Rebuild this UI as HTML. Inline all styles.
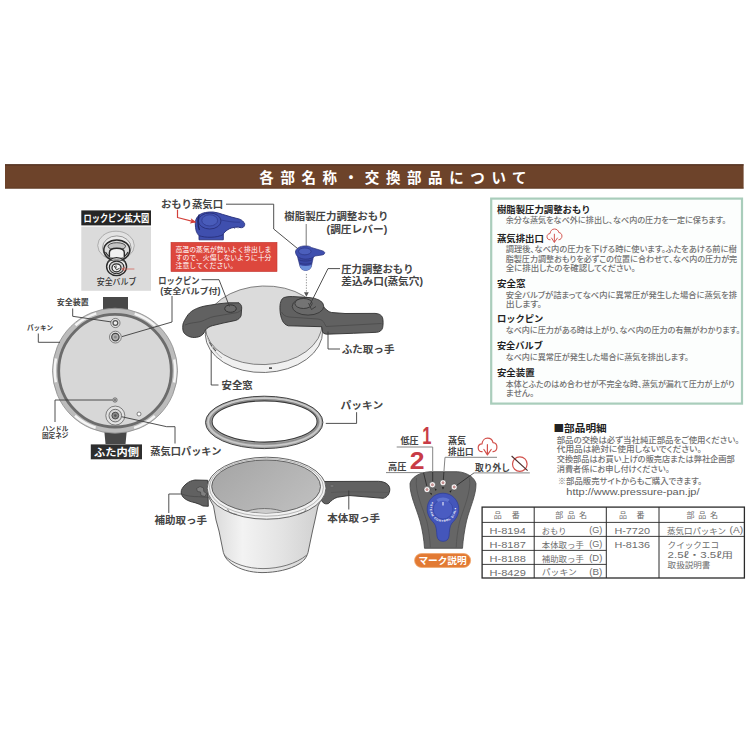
<!DOCTYPE html>
<html lang="ja">
<head>
<meta charset="utf-8">
<title>各部名称・交換部品について</title>
<style>
html,body{margin:0;padding:0;background:#fff;}
body{width:750px;height:750px;overflow:hidden;position:relative;font-family:"Liberation Sans","Noto Sans CJK JP",sans-serif;}
svg{position:absolute;left:0;top:0;display:block;}
text{font-family:"Liberation Sans","Noto Sans CJK JP",sans-serif;}
.lbl{font-weight:700;font-size:10px;fill:#444;}
.sm{font-size:7.6px;fill:#3c3c3c;font-weight:700;}
.h{font-weight:700;font-size:9.1px;fill:#222;}
.p{font-size:7.8px;fill:#707070;font-weight:500;font-feature-settings:"palt";}
.q{font-size:7.7px;fill:#707070;font-weight:500;font-feature-settings:"palt";}
.t{font-size:8.4px;fill:#6c6c6c;}
.cjk{font-family:"Noto Sans CJK JP",sans-serif;}
.ln{fill:none;stroke:#3c3c3c;stroke-width:0.9;}
.ln2{fill:none;stroke:#858585;stroke-width:1;}
.ln3{fill:none;stroke:#1e1e1e;stroke-width:0.7;}
.red{fill:none;stroke:#d3403a;stroke-width:1.2;stroke-linecap:round;stroke-linejoin:round;}
</style>
</head>
<body>
<svg width="750" height="750" viewBox="0 0 750 750" xmlns="http://www.w3.org/2000/svg">
<defs>
<linearGradient id="potg" x1="0" x2="1" y1="0" y2="0">
<stop offset="0" stop-color="#d6d6d6"/><stop offset="0.3" stop-color="#f3f3f3"/><stop offset="0.65" stop-color="#e3e3e3"/><stop offset="1" stop-color="#cfcfcf"/>
</linearGradient>
<linearGradient id="lidg" x1="0" x2="1" y1="0" y2="1">
<stop offset="0" stop-color="#d8d8d8"/><stop offset="1" stop-color="#cfcfcf"/>
</linearGradient>
<linearGradient id="potin_g" x1="0" x2="1" y1="0" y2="0.600"><stop offset="0" stop-color="#a4a4a4"/><stop offset="1" stop-color="#bdbdbd"/></linearGradient>
</defs>
<g id="header">
<rect x="5" y="164.300" width="738.600" height="24.200" fill="#6d432a"/>
<rect x="5" y="164.300" width="738.600" height="1.100" fill="#4e2f20"/>
<rect x="5" y="187.700" width="738.600" height="0.800" fill="#5a3823"/>
<text x="259.300" y="182.78" font-size="14.500" font-weight="700" fill="#fff" letter-spacing="6.600">各部名称・交換部品について</text>
</g>
<g id="infobox">
<rect x="491.200" y="198.600" width="250.800" height="205" fill="#fcfefd" stroke="#a9cdbb" stroke-width="2.200"/>
<text class="h" x="496.900" y="213.0" textLength="93.8" lengthAdjust="spacingAndGlyphs">樹脂製圧力調整おもり</text>
<text class="h" x="496.900" y="241.8" textLength="47" lengthAdjust="spacingAndGlyphs">蒸気排出口</text>
<text class="h" x="496.900" y="286.5" textLength="28.6" lengthAdjust="spacingAndGlyphs">安全窓</text>
<text class="h" x="496.900" y="322.4" textLength="46.4" lengthAdjust="spacingAndGlyphs">ロックピン</text>
<text class="h" x="496.900" y="349.2" textLength="46" lengthAdjust="spacingAndGlyphs">安全バルブ</text>
<text class="h" x="496.900" y="375.6" textLength="37.8" lengthAdjust="spacingAndGlyphs">安全装置</text>
<text class="p" x="505.700" y="222.9" textLength="220.5" lengthAdjust="spacingAndGlyphs">余分な蒸気をなべ外に排出し、なべ内の圧力を一定に保ちます。</text>
<text class="p" x="505.700" y="252.0" textLength="231" lengthAdjust="spacingAndGlyphs">調理後、なべ内の圧力を下げる時に使います。ふたをあける前に樹</text>
<text class="p" x="505.700" y="261.5" textLength="231.5" lengthAdjust="spacingAndGlyphs">脂製圧力調整おもりを必ずこの位置に合わせて、なべ内の圧力が完</text>
<text class="p" x="505.700" y="271.0" textLength="130" lengthAdjust="spacingAndGlyphs">全に排出したのを確認してください。</text>
<text class="p" x="505.700" y="297.6" textLength="231.3" lengthAdjust="spacingAndGlyphs">安全バルブが詰まってなべ内に異常圧が発生した場合に蒸気を排</text>
<text class="p" x="505.700" y="307.0" textLength="36.3" lengthAdjust="spacingAndGlyphs">出します。</text>
<text class="p" x="505.700" y="333.0" textLength="234.5" lengthAdjust="spacingAndGlyphs">なべ内に圧力がある時は上がり、なべ内の圧力の有無がわかります。</text>
<text class="p" x="505.700" y="360.0" textLength="183" lengthAdjust="spacingAndGlyphs">なべ内に異常圧が発生した場合に蒸気を排出します。</text>
<text class="p" x="505.700" y="386.6" textLength="229" lengthAdjust="spacingAndGlyphs">本体とふたのはめ合わせが不完全な時、蒸気が漏れて圧力が上がり</text>
<text class="p" x="505.700" y="396.0" textLength="28.5" lengthAdjust="spacingAndGlyphs">ません。</text>
<use href="#steamicon" transform="translate(164.440,-121.560) scale(0.800)"/>
</g>
<g id="parts">
<text x="553.500" y="431.95" font-size="10" font-weight="700" fill="#222" textLength="53.200" lengthAdjust="spacingAndGlyphs"><tspan class="cjk">■</tspan>部品明細</text>
<text class="q" x="556.7" y="442.76" textLength="182.8" lengthAdjust="spacingAndGlyphs">部品の交換は必ず当社純正部品をご使用ください。</text>
<text class="q" x="556.7" y="452.46" textLength="145" lengthAdjust="spacingAndGlyphs">代用品は絶対に使用しないでください。</text>
<text class="q" x="556.7" y="462.16" textLength="178" lengthAdjust="spacingAndGlyphs">交換部品はお買い上げの販売店または弊社企画部</text>
<text class="q" x="556.7" y="471.66" textLength="113" lengthAdjust="spacingAndGlyphs">消費者係にお申し付けください。</text>
<text class="q" x="557.7" y="484.26" textLength="144.5" lengthAdjust="spacingAndGlyphs">※部品販売サイトからもご購入できます。</text>
<text x="566.300" y="494.500" font-size="9.300" fill="#5c5c5c" textLength="133.200" lengthAdjust="spacingAndGlyphs">http://www.pressure-pan.jp/</text>
</g>
<g id="table">
<rect x="482.100" y="507.100" width="262.300" height="70.900" fill="#fff" stroke="#2a2a2a" stroke-width="1.300"/>
<path d="M534.200 507 V578 M606.300 507 V578 M659 507 V578" stroke="#2a2a2a" stroke-width="1" fill="none"/>
<path d="M482 522.400 H744.400 M482 536.400 H744.400 M482 550.400 H606.300 M482 564.400 H606.300" stroke="#2a2a2a" stroke-width="0.900" fill="none"/>
<text class="t" x="493.700" y="518.48" style="font-size:8px">品</text><text class="t" x="511.800" y="518.48" style="font-size:8px">番</text>
<text class="t" x="619" y="518.48" style="font-size:8px">品</text><text class="t" x="636.500" y="518.48" style="font-size:8px">番</text>
<text class="t" x="555.300" y="518.48" style="font-size:8px" textLength="31.700" lengthAdjust="spacing">部品名</text>
<text class="t" x="686.400" y="518.48" style="font-size:8px" textLength="31.700" lengthAdjust="spacing">部品名</text>
<text class="t" style="font-size:9px" x="489.6" y="533.52" textLength="36.2" lengthAdjust="spacingAndGlyphs">H-8194</text>
<text class="t" style="font-size:9px" x="489.6" y="547.52" textLength="36.2" lengthAdjust="spacingAndGlyphs">H-8187</text>
<text class="t" style="font-size:9px" x="489.6" y="561.52" textLength="36.2" lengthAdjust="spacingAndGlyphs">H-8188</text>
<text class="t" style="font-size:9px" x="489.6" y="575.52" textLength="36.2" lengthAdjust="spacingAndGlyphs">H-8429</text>
<text class="t" style="font-size:9px" x="614.4" y="533.52" textLength="35.6" lengthAdjust="spacingAndGlyphs">H-7720</text>
<text class="t" style="font-size:9px" x="614.4" y="547.52" textLength="35.6" lengthAdjust="spacingAndGlyphs">H-8136</text>
<text class="t" x="541.8" y="533.53" textLength="24.7" lengthAdjust="spacingAndGlyphs">おもり</text>
<text class="t" style="font-size:8.6px" x="589.2" y="533.38" textLength="13.1" lengthAdjust="spacingAndGlyphs">(G)</text>
<text class="t" x="541.8" y="547.53" textLength="42" lengthAdjust="spacingAndGlyphs">本体取っ手</text>
<text class="t" style="font-size:8.6px" x="589.2" y="547.38" textLength="13.1" lengthAdjust="spacingAndGlyphs">(G)</text>
<text class="t" x="541.8" y="561.53" textLength="42" lengthAdjust="spacingAndGlyphs">補助取っ手</text>
<text class="t" style="font-size:8.6px" x="589.2" y="561.38" textLength="13.1" lengthAdjust="spacingAndGlyphs">(D)</text>
<text class="t" x="541.8" y="575.33" textLength="34.9" lengthAdjust="spacingAndGlyphs">パッキン</text>
<text class="t" style="font-size:8.6px" x="589.2" y="575.18" textLength="13.1" lengthAdjust="spacingAndGlyphs">(B)</text>
<text class="t" x="667" y="533.53" textLength="59" lengthAdjust="spacingAndGlyphs">蒸気口パッキン</text>
<text class="t" style="font-size:8.6px" x="729.5" y="533.38" textLength="13.6" lengthAdjust="spacingAndGlyphs">(A)</text>
<text class="t" x="667.6" y="547.63" textLength="51.4" lengthAdjust="spacingAndGlyphs">クイックエコ</text>
<text class="t" x="667.6" y="557.83" textLength="65.4" lengthAdjust="spacingAndGlyphs">2.5<tspan class="cjk">ℓ</tspan>・3.5<tspan class="cjk">ℓ</tspan>用</text>
<text class="t" x="667.6" y="568.23" textLength="42.8" lengthAdjust="spacingAndGlyphs">取扱説明書</text>
</g>
<!-- ===== lock pin enlarged ===== -->
<g id="lockpin">
<rect x="81.300" y="226.600" width="69.700" height="64.200" fill="#dbdbdb"/>
<rect x="81.300" y="210.400" width="69.700" height="15" fill="#262626"/>
<text x="83.500" y="221.600" font-size="10" font-weight="700" fill="#fff" textLength="65.600" lengthAdjust="spacingAndGlyphs">ロックピン拡大図</text>
<g fill="none" stroke="#2a2a2a">
<ellipse cx="116" cy="245.500" rx="18.300" ry="14.300" fill="#e2e2e2" stroke="#8c8c8c" stroke-width="0.600"/>
<ellipse cx="116.800" cy="247.700" rx="14.300" ry="11.800" fill="#ececec" stroke="#777" stroke-width="0.700"/>
<ellipse cx="116.800" cy="250.300" rx="13" ry="10.400" fill="#dcdcdc" stroke-width="1.500"/>
<ellipse cx="116.800" cy="246.300" rx="8.800" ry="3.600" fill="#c4c4c4" stroke="#444" stroke-width="0.900"/>
<path d="M105.500 252 C108 256.500 112 259 116.800 259 C121.600 259 125.600 256.500 128 252" stroke-width="1.100"/>
<path d="M109.400 257.500 V252.500 C109.400 249.800 112.500 248.300 116.800 248.300 C121.100 248.300 124.300 249.800 124.300 252.500 V257.500" fill="#f1f1f1" stroke-width="1.400"/>
<ellipse cx="116.600" cy="266.600" rx="10" ry="9" fill="#ededed" stroke-width="1.400"/>
<path d="M107.500 262 C110 259.300 123 259.300 125.700 262" stroke-width="1" stroke="#444"/>
<ellipse cx="116.600" cy="267.400" rx="7.300" ry="6.300" fill="#d2d2d2" stroke-width="1.100"/>
<ellipse cx="116.500" cy="267.800" rx="4.500" ry="4" fill="#f4f4f4" stroke-width="1.200"/>
<path d="M114.200 266 L116.500 269.800 L119.500 268.300 M116 265.300 V268" stroke-width="0.900"/>
</g>
<path class="red" style="stroke-width:0.800;stroke:#d4665c" d="M134 269 H122.300 M124.800 267.200 L121.800 269 L124.800 270.800"/>
<text x="96.700" y="285.300" font-size="8.600" font-weight="500" fill="#333" textLength="39.700" lengthAdjust="spacingAndGlyphs">安全バルブ</text>
</g>

<!-- ===== lid inside view ===== -->
<g id="lidinside">
<path d="M103 297 H128 V311 H103 Z" fill="#484848"/>
<path d="M104 428 H127 L125.500 444 H105.500 Z" fill="#484848"/>
<circle cx="115" cy="370.700" r="62.500" fill="#bcbcbc" stroke="#8a8a8a" stroke-width="0.800"/>
<circle cx="115" cy="370.700" r="60.300" fill="none" stroke="#f4f4f4" stroke-width="2.500" stroke-dasharray="24 39.150" stroke-dashoffset="12" stroke-linecap="butt"/>
<circle cx="115" cy="370.700" r="56.300" fill="#d7d7d7" stroke="#6c6c6c" stroke-width="2.800"/>
<g fill="none" stroke="#555" stroke-width="0.700">
<circle cx="115.400" cy="323" r="4.600" fill="#e4e4e4"/>
<circle cx="115.400" cy="323" r="2.400" fill="#f0f0f0" stroke="#555" stroke-width="1.300"/>
<circle cx="115.400" cy="337.100" r="5.900" fill="#e4e4e4"/>
<circle cx="115.400" cy="337.100" r="3.700" fill="#b0b0b0" stroke="#444" stroke-width="1.200"/>
<circle cx="115.400" cy="337.100" r="1.500" fill="#8a8a8a" stroke="none"/>
<circle cx="115" cy="400" r="2.200" fill="#bdbdbd"/>
<circle cx="115" cy="400" r="0.900" fill="#666" stroke="none"/>
<circle cx="115.300" cy="415.600" r="9.500" fill="#e2e2e2"/>
<circle cx="115.300" cy="415.600" r="6.300" fill="#d6d6d6" stroke="#555" stroke-width="0.800"/>
<circle cx="115.300" cy="415.600" r="3.400" fill="#8a8a8a" stroke="#444" stroke-width="0.900"/>
<circle cx="115.300" cy="415.600" r="1.300" fill="#555" stroke="none"/>
<circle cx="139" cy="414" r="2" fill="#fff"/>
</g>
</g>

<!-- ===== lid 3D ===== -->
<g id="lid3d">
<g transform="rotate(-2 263.700 325.300)">
<ellipse cx="263.700" cy="332.800" rx="58.700" ry="39.700" fill="#f0f0f0" stroke="#666" stroke-width="0.900"/>
<ellipse cx="263.700" cy="325.300" rx="58.400" ry="39.300" fill="#dbdbdb" stroke="#666" stroke-width="0.800"/>
</g>
<!-- safety window slots -->
<path d="M209.400 342.300 L212.200 346.500 M213 347.500 L216 351" stroke="#444" stroke-width="1.100" fill="none"/><path d="M207.600 338 C210 345.500 215 352.500 222 358" stroke="#8a8a8a" stroke-width="0.600" fill="none"/>
<rect x="269" y="367.300" width="3" height="1.600" fill="#444"/>
<!-- left handle -->
<path d="M239 302.800 L228.300 302.800 L217.700 303.900 L204.900 306 C200 307 197 308.300 194.200 309.700 C190.500 311.700 188.300 314 186.700 316.700 C185 319.500 183.500 322 183 324.100 C182.600 326.500 182.600 328.500 183 330.500 C183.600 332.800 185 334.300 186.700 335.300 C189 336.800 191.500 337.500 194.200 337.500 C197 337.400 199.700 336.800 201.700 335.300 C203.500 334 204.700 332 205.400 330 C207 328 209.500 326.500 212.300 325.700 L223 323.100 L235.800 320.400 C238.500 319.500 240.300 317.800 241.100 315.600 L241.700 308.100 C241.800 306 241 304.600 240 303.900 Z" fill="#616161" stroke="#303030" stroke-width="0.900"/>
<path d="M185 325 C190 322.500 196 322.800 201 321.500 C206 319.800 209 317.500 214 316.500 L236 312.800 C238.500 312.300 240.500 311 241.300 309.500" fill="none" stroke="#4a4a4a" stroke-width="0.800"/>
<ellipse cx="230.500" cy="308.600" rx="5.800" ry="3.700" fill="#6a6a6a" stroke="#2e2e2e" stroke-width="0.900"/>
<!-- right handle -->
<path d="M284.200 297.500 C288 296.300 292 296.500 295 296.700 L308.300 297.500 C313 298.500 317 300.500 320 303.300 C322 305 323.500 306.800 325 308.300 C327 310.500 329 312 331.700 312.500 L345 313.500 L375 313.400 C379 313.500 381.500 315 382.500 317.500 C383.300 320 383.300 325 382.600 327.800 C381.800 330.500 379.800 332 376.700 332.300 L353.300 333.300 L326.700 334.200 C324.500 334 323 333 322.500 331.700 L321.700 326.700 L288.300 325.800 C285.500 325 283.500 323 282.500 320.800 C281 317.500 280.200 314 280 310 C279.800 306.500 280 304 280.800 301.700 C281.500 299.500 282.500 298.200 284.200 297.500 Z" fill="#616161" stroke="#303030" stroke-width="0.900"/>
<path d="M281.500 312 C283 315 285.500 316.500 289 317 L318 319 C321.500 319.500 323.500 321 324.500 323.500 L326 326.500 L381.500 323.500" fill="none" stroke="#4a4a4a" stroke-width="0.800"/>
<ellipse cx="308" cy="306.300" rx="15.800" ry="8.800" fill="#696969" stroke="#333" stroke-width="0.800"/>
<ellipse cx="303.500" cy="303.500" rx="8.600" ry="5" fill="#747474" stroke="#303030" stroke-width="0.800"/>
<path d="M308.500 303 L311.500 309.500 L316 306.500" fill="none" stroke="#303030" stroke-width="0.700"/>
</g>

<!-- ===== gasket ring ===== -->
<g id="gasket">
<ellipse cx="264.200" cy="422.400" rx="58.700" ry="26.200" fill="#a4a4a4" stroke="#444" stroke-width="1"/>
<ellipse cx="264.300" cy="422.100" rx="56.200" ry="23.900" fill="none" stroke="#cacaca" stroke-width="1.700"/>
<ellipse cx="264.400" cy="421.800" rx="54.300" ry="22.200" fill="none" stroke="#7d7d7d" stroke-width="0.800"/>
<ellipse cx="264.600" cy="421.500" rx="52.500" ry="20.600" fill="#fff" stroke="#3a3a3a" stroke-width="1.100"/>
</g>

<!-- ===== pot ===== -->
<g id="pot">
<!-- main handle (right) -->
<path d="M322 481.500 L378.500 481.300 C385 481.500 389.800 484.500 389.800 489.300 C389.800 494 387 497.500 383 498.300 L349 495.500 L337.700 497.200 C333.500 498.300 331 501 328.600 503.400 C326.500 504.300 324.500 503.800 323.500 502.900 L319 498 Z" fill="#616161" stroke="#303030" stroke-width="0.900"/>
<path d="M331 492.500 C345 491.300 370 492 388.500 492.500" fill="none" stroke="#555" stroke-width="0.700"/>
<ellipse cx="332" cy="486" rx="2" ry="1.200" fill="#7c7c7c" stroke="#505050" stroke-width="0.500"/>
<!-- aux handle (left) -->
<path d="M207.700 480.300 L195 480 C191.500 480.500 189 481.700 187 483.300 C184 485.500 182 488 181.300 490.700 C181 492.300 181.200 493.700 181.700 494.700 C182.500 496.700 184 498.300 185.700 499.300 C188.500 501 191.500 502 195 502.700 C198 503.500 200.500 504.700 203 506 L208.300 506.300 Z" fill="#616161" stroke="#303030" stroke-width="0.900"/>
<path d="M181.700 494 C187 496.300 193 496.500 198.300 496.700 L208 497.300" fill="none" stroke="#4a4a4a" stroke-width="0.800"/>
<path d="M196.500 488.500 L200 486.500 L203.500 488 L203.800 491.500 L206.500 493.500 L205 496.500 L201 495.500 L200.500 492 L197.500 491.500 Z" fill="#808080" stroke="#444" stroke-width="0.700"/>
<!-- body -->
<path d="M208.500 497 L213.500 506 L216 520 L219 531 L223.400 552.600 C225 558 228 561 232 564 C240 569.500 250 572.400 262 572.600 C276 572.600 290 569.500 299 564 C304 561 306.500 557.500 308 552.600 L312.500 531 L315 520 L318 506 L322 498 Z" fill="url(#potg)" stroke="#555" stroke-width="0.900"/>
<path d="M224.300 555 C232 564 248 568.600 263 568.600 C279 568.600 296 564 306.800 555" fill="none" stroke="#6a6a6a" stroke-width="0.900"/>
<!-- rim -->
<ellipse cx="266.600" cy="488.200" rx="59.400" ry="31" fill="#f1f1f1" stroke="#555" stroke-width="0.900"/>
<ellipse cx="266.400" cy="487.400" rx="57" ry="28.800" fill="none" stroke="#8a8a8a" stroke-width="0.600"/>
<ellipse cx="266.100" cy="486.500" rx="54.400" ry="26.500" fill="url(#potin_g)" stroke="#555" stroke-width="0.900"/>
<clipPath id="potin"><ellipse cx="266.100" cy="486.500" rx="54.400" ry="26.500"/></clipPath>
<g clip-path="url(#potin)">
<ellipse cx="264.500" cy="523.500" rx="31" ry="15" fill="#cdcdcd" stroke="#6a6a6a" stroke-width="0.900"/>
</g>
<path d="M227.500 509 L229.500 512.500 L237 514.500 M306 509 L304.500 512 L298 514" stroke="#666" stroke-width="0.700" fill="none"/>
</g>

<!-- ===== blue weight (large) ===== -->
<g id="weightbig">
<path d="M195.300 223.700 C195.300 220.500 196.300 218 198 216.200 C200 214 202.500 213 205.500 212.500 C208 212 210.500 211.900 213 212 C216.500 212.300 219.500 213.300 222.300 214.300 L231.700 217.100 L239.100 219 C241 219.600 242.500 220.600 243.300 221.800 C244.300 222.600 244.800 223.600 244.700 224.600 C244.600 225.900 244 226.900 242.900 227.400 C241 228 239 227.200 237.300 226.900 L231.700 227.900 C230 228.400 228.300 229.200 227 230.200 C225.500 231.200 224.200 232.500 223.300 233.900 L223.300 239.800 L199 239.800 L199 235.800 C197.800 234.500 196.800 232.900 196.200 231.100 C195.600 228.700 195.300 226.200 195.300 223.700 Z" fill="#3f4fae" stroke="#28307a" stroke-width="0.900"/>
<path d="M199 235.600 C205 238 217 238 223.300 234.500" fill="none" stroke="#28307a" stroke-width="0.900"/>
<ellipse cx="209.700" cy="221" rx="11.300" ry="8" fill="#4253b2" stroke="#28307a" stroke-width="0.900"/>
<ellipse cx="209.700" cy="220.400" rx="7.900" ry="5.600" fill="#495cba" stroke="#2c378a" stroke-width="0.700"/>
<path d="M221 220 C226 221 233 222.500 240 222.200" fill="none" stroke="#2c378a" stroke-width="0.700"/>
<path d="M199.300 214.500 C197.500 218 197.500 226 199.500 230" fill="none" stroke="#1f2768" stroke-width="1.300"/>
<path d="M233.500 227.300 l1.300 1.400 M236.500 227 l1.300 1.300 M239.500 227 l1.200 1.200" stroke="#28307a" stroke-width="0.800" fill="none"/>
</g>
<path class="red" d="M177.500 210 V217.500 L194.500 221.800"/>
<path d="M196.500 222.300 L190.800 218.300 L191.600 221 L189.800 223.500 Z" fill="#d3403a"/>

<!-- ===== red caution box ===== -->
<g id="caution">
<rect x="171" y="242.300" width="106" height="29.300" fill="#dd473d" stroke="#c43b35" stroke-width="0.600"/>
<text x="175.500" y="251.700" font-size="6.900" fill="#fff" textLength="96" lengthAdjust="spacingAndGlyphs">高温の蒸気が勢いよく排出しま</text>
<text x="175.500" y="260" font-size="6.900" fill="#fff" textLength="96" lengthAdjust="spacingAndGlyphs">すので、火傷しないように十分</text>
<text x="175.500" y="268.100" font-size="6.900" fill="#fff">注意してください。</text>
</g>

<!-- ===== blue weight (small) ===== -->
<g id="weightsmall">
<path d="M296 251 L300.100 266.700 C301.500 271.600 309.800 271.600 311.300 266.700 L314 254 Z" fill="#3a48a4" stroke="#28307a" stroke-width="0.600"/>
<path d="M299.700 265 L300.300 267 C301.700 271.500 309.700 271.500 311.100 267 L311.600 265 C308 266.300 303 266.300 299.700 265 Z" fill="#6c90da"/>
<path d="M298.300 259.500 C301.500 261.500 309.500 261.500 312.500 259.500 M299.300 263 C302 264.600 309 264.600 311.700 263" fill="none" stroke="#232b70" stroke-width="0.600"/>
<path d="M295.500 252 C295.500 248.500 299.800 245.900 305.500 245.900 C308.500 245.900 310.500 246.500 311.300 247.500 L322 250.700 C324 251.300 324.800 252 324.700 252.900 C324.600 254 323.500 254.800 322 255 L315 256 C313 258 309.500 259.200 305.500 259.200 C299.800 259.200 295.500 255.800 295.500 252 Z" fill="#3f4fae" stroke="#28307a" stroke-width="0.700"/>
<ellipse cx="304.800" cy="251.400" rx="6.300" ry="3.400" fill="#4c5fbc" stroke="#28307a" stroke-width="0.600"/>
</g>
<path d="M306.400 274 V292" stroke="#8a8a8a" stroke-width="0.900" stroke-dasharray="1.300 1.400" fill="none"/>
<path d="M304 292.300 L306.400 296.800 L308.800 292.300 Z" fill="#555"/>

<!-- ===== mark description ===== -->
<g id="mark">
<path d="M410 483.500 C411.500 477.500 419 472.300 430 471.700 L457.500 471.700 C467 472.300 474.500 477.500 476 483.500 C476.300 495 470 507 466.500 521 C464.500 530 463 540 462.500 548.300 L424.500 548.300 C424 540 422.500 530 420 521 C416 507 409.700 495 410 483.500 Z" fill="#666" stroke="#444" stroke-width="0.800"/>
<path d="M416.500 478 C414.500 492 423 508 427 522 C429 531 430 540 430.300 547.500 M469.500 478 C471.500 492 463.500 508 459.500 522 C457.500 531 456.500 540 456.200 547.500" fill="none" stroke="#555" stroke-width="0.900"/>
<!-- blue dial -->
<path d="M443 493.200 C452 493.200 458.800 500.300 458.800 509 C458.800 515 455.500 519.500 452 523 C449.500 526 449.500 531 449 536 C448.600 539.500 446.500 541.300 443 541.300 C439.500 541.300 437.400 539.500 437 536 C436.500 531 436.500 526 434 523 C430.500 519.500 427.200 515 427.200 509 C427.200 500.300 434 493.200 443 493.200 Z" fill="#4456bb" stroke="#2f3f9a" stroke-width="0.800"/>
<circle cx="443" cy="509.200" r="9.800" fill="#4a5cc2" stroke="#3446a4" stroke-width="0.700"/>
<path d="M436.500 499.500 C440 496.800 446 496.800 449.500 499.500 L448 502 C445 500.300 441 500.300 438 502 Z" fill="#6074cf"/>
<path d="M443 502 V505.500" stroke="#fff" stroke-width="1" fill="none"/>
<path id="dialarc" d="M432.200 501.500 A13.100 13.100 0 1 0 453.800 501.500" fill="none"/>
<text font-size="3" font-weight="700" fill="#fff" letter-spacing="0.620"><textPath href="#dialarc" startOffset="0.500">●STEAM CONTROL DIAL●</textPath></text>
<!-- indicator lights -->
<g fill="#fdfdfd" stroke="#3a3a3a" stroke-width="0.500">
<circle cx="427" cy="489.600" r="3"/><circle cx="432.400" cy="484.800" r="3"/><circle cx="443" cy="482.800" r="3"/><circle cx="454.200" cy="487" r="3"/>
</g>
<g fill="#c49a9a" stroke="#b06060" stroke-width="0.400">
<circle cx="427" cy="489.600" r="1.200"/><circle cx="432.400" cy="484.800" r="1.200"/><circle cx="443" cy="482.800" r="1.200"/><circle cx="454.200" cy="487" r="1.200"/>
</g>
<path d="M429.600 492.600 l2.400 1 l-0.600 1.600 Z M434.600 488.200 l2.200 1.400 l-1.200 1.400 Z M441.800 487.200 h2.400 l-1.200 2.400 Z M451.800 490 l-2.400 1.200 l1.200 1.600 Z" fill="#222"/>
<!-- pill -->
<rect x="414.600" y="553.600" width="56" height="13.800" rx="6.900" fill="#e27a33" stroke="#f0a66c" stroke-width="0.800"/>
<text x="418.400" y="564.100" font-size="9.600" font-weight="700" fill="#fff" textLength="48.300" lengthAdjust="spacingAndGlyphs">マーク説明</text>
<!-- labels -->
<text class="lbl" style="font-size:9px" x="400.400" y="443.700" textLength="18.200" lengthAdjust="spacingAndGlyphs">低圧</text>
<text x="422.200" y="444.200" font-size="23.500" font-weight="700" fill="#c83c46" textLength="9.200" lengthAdjust="spacingAndGlyphs">1</text>
<path class="ln2" d="M396.700 447 H432.700 V472"/><path class="ln3" d="M432.700 472 V481.500"/>
<text class="lbl" style="font-size:9px" x="388" y="470" textLength="18.400" lengthAdjust="spacingAndGlyphs">高圧</text>
<text x="409.700" y="469.200" font-size="23.500" font-weight="700" fill="#c83c46" textLength="14.800" lengthAdjust="spacingAndGlyphs">2</text>
<path class="ln2" d="M386 472.600 H423.500"/><path class="ln3" d="M423.500 472.600 L426.800 486"/>
<text class="lbl" style="font-size:9px" x="448" y="443.500" textLength="18" lengthAdjust="spacingAndGlyphs">蒸気</text>
<text class="lbl" style="font-size:9px" x="448" y="454.500" textLength="25.500" lengthAdjust="spacingAndGlyphs">排出口</text>
<path class="ln2" d="M497 457.300 H445 L443.900 472"/><path class="ln3" d="M443.900 472 L443.300 480"/>
<text class="lbl" style="font-size:9px" x="475" y="471" textLength="35" lengthAdjust="spacingAndGlyphs">取り外し</text>
<path class="ln2" d="M529.800 472.900 H474"/><path class="ln3" d="M474 472.900 L456.500 485.500"/>
<!-- steam icon -->
<g id="steamicon" fill="none" stroke="#d2514c" stroke-width="1.200" stroke-linecap="round" stroke-linejoin="round"><path d="M482.100 451.700 C479.500 451.900 478.200 450 478.200 447.800 C478.200 445.600 479.800 444 482 443.900 C482.300 440.600 484.600 438.200 487.500 438.200 C490.300 438.200 492.500 440 493 442.600 C495.300 442.800 496.900 444.700 496.900 447 C496.900 449.700 495.200 451.500 493 451.700"/><path d="M487.400 444.700 V454.600 M483.900 449.500 L487.400 454.900 L491.200 449.500"/></g>
<!-- prohibition icon -->
<circle cx="519.800" cy="464.100" r="7.300" fill="none" stroke="#d2514c" stroke-width="1.200"/>
<path d="M511.600 456 L527.600 470.700" fill="none" stroke="#4a2c2c" stroke-width="1.100"/>
</g>

<!-- ===== labels & leaders ===== -->
<g id="labels">
<text class="lbl" x="160.900" y="208.100" textLength="62.200" lengthAdjust="spacingAndGlyphs">おもり蒸気口</text>
<path class="ln" d="M226 204.200 H273.700 V229 L297.500 248.500"/>
<text class="lbl" x="284.300" y="220.200" textLength="104.200" lengthAdjust="spacingAndGlyphs">樹脂製圧力調整おもり</text>
<text class="lbl" x="326.600" y="233.200" textLength="60.700" lengthAdjust="spacingAndGlyphs">(調圧レバー)</text>
<path class="ln" style="stroke:#6a6a6a" d="M306.200 224 V246"/>
<text class="lbl" x="341.300" y="273.200" textLength="72.200" lengthAdjust="spacingAndGlyphs">圧力調整おもり</text>
<text class="lbl" x="341.300" y="285.200" textLength="81.700" lengthAdjust="spacingAndGlyphs">差込み口(蒸気穴)</text>
<path class="ln" d="M340 268.600 H328 L309.500 305.500"/>
<text class="lbl" x="341.700" y="353.200" textLength="52.800" lengthAdjust="spacingAndGlyphs">ふた取っ手</text>
<path class="ln" d="M340 349 H328 V331.500"/>
<text class="lbl" style="font-size:9px" x="158.300" y="283.500" textLength="41.200" lengthAdjust="spacingAndGlyphs">ロックピン</text>
<text class="lbl" style="font-size:8.200px" x="160.300" y="293.500" textLength="60.200" lengthAdjust="spacingAndGlyphs">(安全バルブ付)</text>
<path class="ln" d="M201.600 279.700 H219 L229.500 306.500"/>
<path class="ln" d="M172 296 V322 L122 336.600"/>
<text class="lbl" x="221.500" y="389.200" textLength="31.200" lengthAdjust="spacingAndGlyphs">安全窓</text>
<path class="ln" d="M218.500 385 H211.200 V350.500"/>
<text class="lbl" x="340.500" y="409.400" textLength="42.800" lengthAdjust="spacingAndGlyphs">パッキン</text>
<path class="ln" d="M356.600 412.200 V423.400 H325.800"/>
<text class="lbl" x="150.300" y="455.400" textLength="71.200" lengthAdjust="spacingAndGlyphs">蒸気口パッキン</text>
<path class="ln" d="M122 416.800 L166.700 426.700 H175 V443.500"/>
<text class="lbl" x="154.500" y="523.800" textLength="52.600" lengthAdjust="spacingAndGlyphs">補助取っ手</text>
<path class="ln" d="M181.500 494 H168.800 V513"/>
<text class="lbl" x="327.300" y="522.400" textLength="52.800" lengthAdjust="spacingAndGlyphs">本体取っ手</text>
<path class="ln" d="M348.800 490.500 V509.500"/>
<!-- small labels -->
<text class="sm" x="56.700" y="305.100" textLength="32" lengthAdjust="spacingAndGlyphs">安全装置</text>
<path class="ln" d="M72.700 308.500 V316.300 L111 321.900"/>
<text class="sm" style="font-size:6.800px" x="27" y="330.200" textLength="26" lengthAdjust="spacingAndGlyphs">パッキン</text>
<path class="ln" d="M38.300 333.500 V342.300 H60"/>
<text class="sm" style="font-size:6.800px" x="42" y="430.600" textLength="26.500" lengthAdjust="spacingAndGlyphs">ハンドル</text>
<text class="sm" style="font-size:6.800px" x="42" y="438.300" textLength="26.500" lengthAdjust="spacingAndGlyphs">固定ネジ</text>
<path class="ln" d="M112.500 400 H55 V422"/>
<!-- futa uchigawa -->
<rect x="90.800" y="444.400" width="51.200" height="14.900" fill="#2e2e2e"/>
<text x="94" y="455.900" font-size="10.500" font-weight="700" fill="#fff" textLength="45" lengthAdjust="spacingAndGlyphs">ふた内側</text>
</g>
</svg>
</body>
</html>
